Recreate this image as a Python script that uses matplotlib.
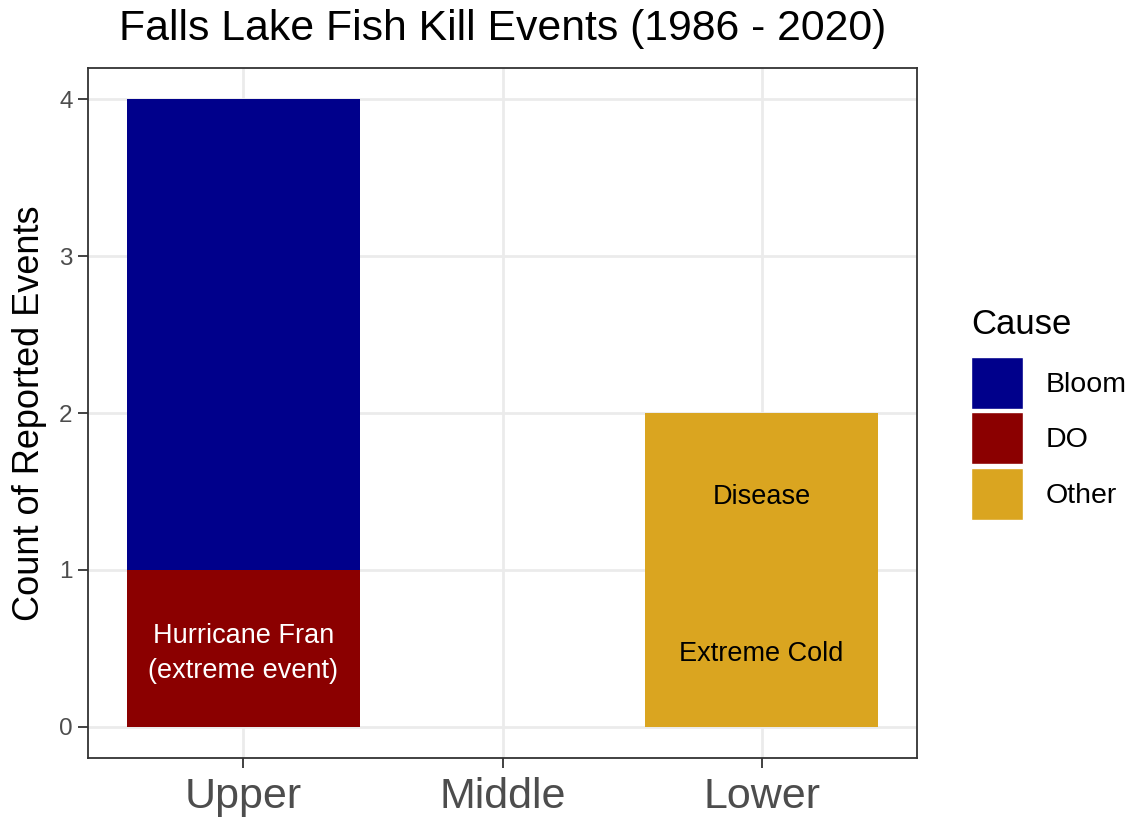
import matplotlib
matplotlib.use("Agg")
import matplotlib.pyplot as plt
import matplotlib.patches as patches
import numpy as np

# Данные
regions = ["Upper", "Middle", "Lower"]
causes = ["Bloom", "DO", "Other"]
do_counts = [1, 0, 0]
bloom_counts = [3, 0, 0]
other_counts = [0, 0, 2]

# Подписи внутри столбцов
note_text = ["Hurricane Fran\n(extreme event)", "Extreme Cold", "Disease"]
note_region = ["Upper", "Lower", "Lower"]
note_y = [0.5, 0.5, 1.5]
note_color = ["white", "black", "black"]

COLORS = {"Bloom": "#00008B", "DO": "#8B0000", "Other": "#DAA520"}

plt.rcParams["font.family"] = ["Liberation Sans", "DejaVu Sans"]

W, H = 1130, 817
fig = plt.figure(figsize=(W / 100, H / 100), dpi=100)
ax = fig.add_axes([88 / W, (H - 758) / H, (917 - 88) / W, (758 - 68) / H])

x = np.arange(1, len(regions) + 1)
width = 0.9
ax.bar(x, do_counts, width, color=COLORS["DO"], zorder=2)
ax.bar(x, bloom_counts, width, bottom=do_counts, color=COLORS["Bloom"], zorder=2)
bottom2 = np.array(do_counts) + np.array(bloom_counts)
ax.bar(x, other_counts, width, bottom=bottom2, color=COLORS["Other"], zorder=2)

for txt, reg, yy, col in zip(note_text, note_region, note_y, note_color):
    ax.annotate(txt, (regions.index(reg) + 1, yy), xytext=(0, -4),
                textcoords="offset points", ha="center", va="center",
                color=col, fontsize=19.5, linespacing=1.45, zorder=3)

ax.set_xlim(0.4, 3.6)
ax.set_ylim(-0.2, 4.2)
ax.set_xticks(x)
ax.set_xticklabels(regions)
ax.set_yticks([0, 1, 2, 3, 4])

ax.grid(True, color="#EBEBEB", linewidth=2, zorder=0)
ax.set_axisbelow(True)
for s in ax.spines.values():
    s.set_color("#333333")
    s.set_linewidth(1.3)

ax.tick_params(axis="both", direction="out", length=7, width=1.3,
               color="#333333", labelcolor="#4D4D4D")
ax.tick_params(axis="x", labelsize=31, pad=7)
ax.tick_params(axis="y", labelsize=17.5, pad=4)

ax.set_ylabel("Count of Reported Events", fontsize=26, labelpad=9)
ax.set_title("Falls Lake Fish Kill Events (1986 - 2020)", fontsize=30.8, pad=20)

# Легенда (заголовок отдельно, чтобы выставить отступ)
fig.text(971 / W, 1 - 324 / H, "Cause", fontsize=25, ha="left", va="center")
fs = 20.5
fs_px = fs * 100 / 72
key_px = 52
hh = (key_px * 72 / 100 / fs - 0.245) / 0.65
handles = [patches.Patch(facecolor=COLORS[c], edgecolor="white", linewidth=1) for c in causes]
leg = fig.legend(handles, causes, loc="upper left",
                 bbox_to_anchor=(971 / W, 1 - 357 / H), frameon=False,
                 fontsize=fs, handlelength=key_px / fs_px,
                 handleheight=hh, labelspacing=0.12,
                 handletextpad=0.78, borderpad=0, borderaxespad=0)

fig.savefig("out.png", dpi=100, facecolor="white")
